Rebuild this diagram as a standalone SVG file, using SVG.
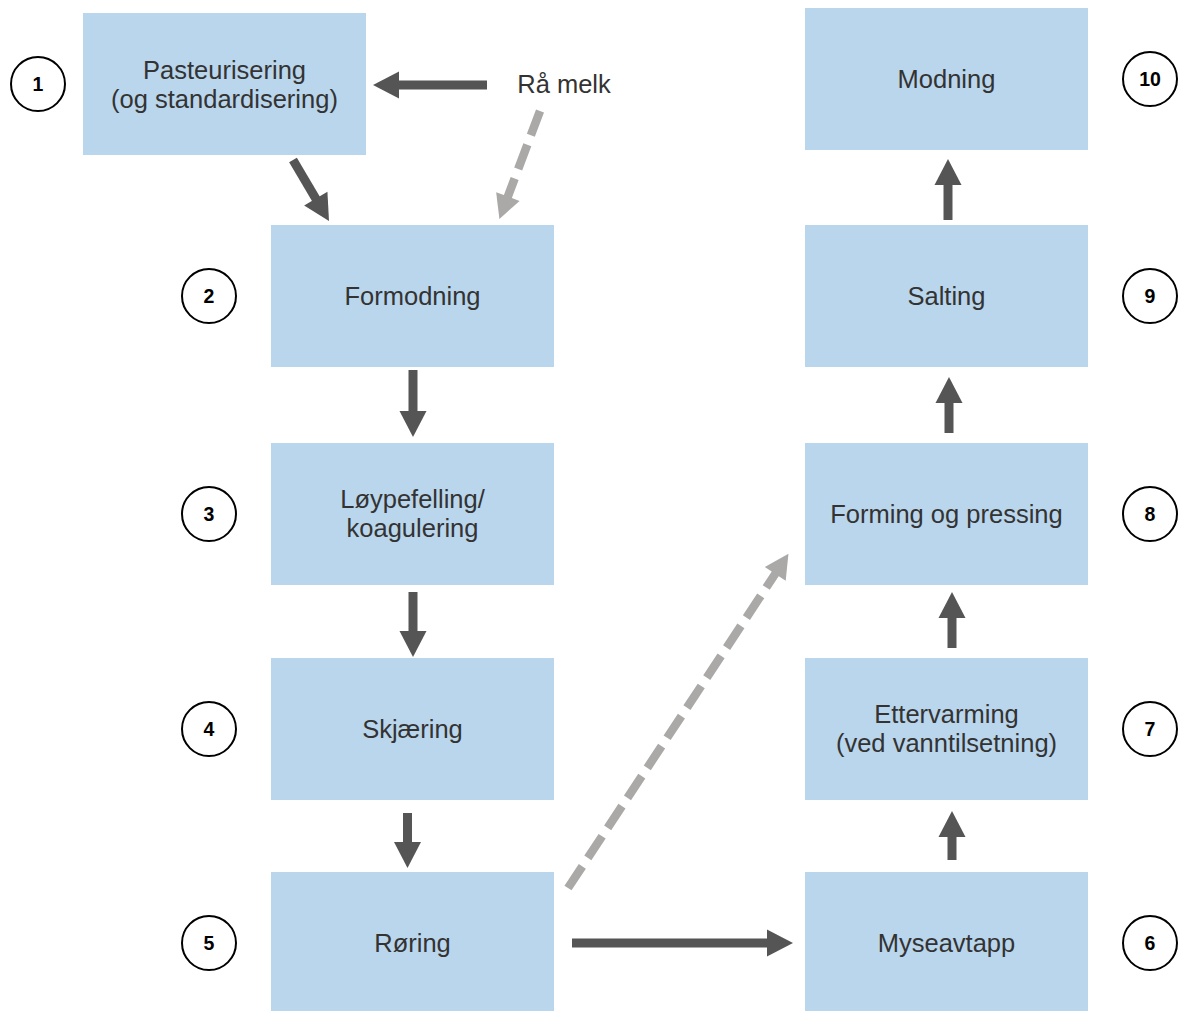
<svg xmlns="http://www.w3.org/2000/svg" width="1179" height="1011" viewBox="0 0 1179 1011">
<style>
  .box { fill: #BAD6EC; }
  .lbl { font-family: "Liberation Sans", Arial, sans-serif; font-size: 25.5px; fill: #333333; text-anchor: middle; }
  .num circle { fill: #ffffff; stroke: #000000; stroke-width: 2; }
  .num text { font-family: "Liberation Sans", Arial, sans-serif; font-size: 19.5px; font-weight: bold; fill: #000000; text-anchor: middle; }
  .solid { stroke: #555555; stroke-width: 9; fill: none; marker-end: url(#headDark); }
  .dashed { stroke: #ABA9A8; stroke-width: 8.5; fill: none; stroke-dasharray: 26 10; marker-end: url(#headGray); }
</style>
<defs>
  <marker id="headDark" markerUnits="userSpaceOnUse" markerWidth="27" markerHeight="28" refX="1" refY="13.5" orient="auto" overflow="visible">
    <path d="M0,0 L26,13.5 L0,27 Z" fill="#555555"/>
  </marker>
  <marker id="headGray" markerUnits="userSpaceOnUse" markerWidth="26" markerHeight="26" refX="1" refY="12.5" orient="auto" overflow="visible">
    <path d="M0,0 L24,12.5 L0,25 Z" fill="#ABA9A8"/>
  </marker>
</defs>
<rect width="1179" height="1011" fill="#ffffff"/>

<g id="connectors">
  <line class="solid" x1="487" y1="85" x2="398" y2="85"/>
  <line class="dashed" x1="540" y1="111" x2="507.5" y2="197.5"/>
  <line class="solid" x1="293" y1="160" x2="316.3" y2="199.5"/>
  <line class="solid" x1="413" y1="370" x2="413" y2="412"/>
  <line class="solid" x1="413" y1="592" x2="413" y2="632"/>
  <line class="solid" x1="407.5" y1="813" x2="407.5" y2="843"/>
  <line class="solid" x1="572" y1="943" x2="768" y2="943"/>
  <line class="dashed" x1="568" y1="888" x2="775.8" y2="573"/>
  <line class="solid" x1="952" y1="860" x2="952" y2="836"/>
  <line class="solid" x1="952" y1="648" x2="952" y2="617"/>
  <line class="solid" x1="949" y1="433" x2="949" y2="402"/>
  <line class="solid" x1="948" y1="220" x2="948" y2="184"/>
</g>

<g id="raw-milk">
  <text class="lbl" x="564" y="92.5">Rå melk</text>
</g>

<g id="step1">
  <rect class="box" x="83" y="13" width="283" height="142"/>
  <text class="lbl" x="224.5" y="78.5">Pasteurisering</text>
  <text class="lbl" x="224.5" y="107.5">(og standardisering)</text>
  <g class="num"><circle cx="38" cy="84" r="27"/><text x="38" y="91">1</text></g>
</g>
<g id="step2">
  <rect class="box" x="271" y="225" width="283" height="142"/>
  <text class="lbl" x="412.5" y="305">Formodning</text>
  <g class="num"><circle cx="209" cy="296" r="27"/><text x="209" y="303">2</text></g>
</g>
<g id="step3">
  <rect class="box" x="271" y="443" width="283" height="142"/>
  <text class="lbl" x="412.5" y="508">Løypefelling/</text>
  <text class="lbl" x="412.5" y="537">koagulering</text>
  <g class="num"><circle cx="209" cy="514" r="27"/><text x="209" y="521">3</text></g>
</g>
<g id="step4">
  <rect class="box" x="271" y="658" width="283" height="142"/>
  <text class="lbl" x="412.5" y="738">Skjæring</text>
  <g class="num"><circle cx="209" cy="729" r="27"/><text x="209" y="736">4</text></g>
</g>
<g id="step5">
  <rect class="box" x="271" y="872" width="283" height="142"/>
  <text class="lbl" x="412.5" y="952">Røring</text>
  <g class="num"><circle cx="209" cy="943" r="27"/><text x="209" y="950">5</text></g>
</g>
<g id="step6">
  <rect class="box" x="805" y="872" width="283" height="142"/>
  <text class="lbl" x="946.5" y="952">Myseavtapp</text>
  <g class="num"><circle cx="1150" cy="943" r="27"/><text x="1150" y="950">6</text></g>
</g>
<g id="step7">
  <rect class="box" x="805" y="658" width="283" height="142"/>
  <text class="lbl" x="946.5" y="723">Ettervarming</text>
  <text class="lbl" x="946.5" y="752">(ved vanntilsetning)</text>
  <g class="num"><circle cx="1150" cy="729" r="27"/><text x="1150" y="736">7</text></g>
</g>
<g id="step8">
  <rect class="box" x="805" y="443" width="283" height="142"/>
  <text class="lbl" x="946.5" y="523">Forming og pressing</text>
  <g class="num"><circle cx="1150" cy="514" r="27"/><text x="1150" y="521">8</text></g>
</g>
<g id="step9">
  <rect class="box" x="805" y="225" width="283" height="142"/>
  <text class="lbl" x="946.5" y="305">Salting</text>
  <g class="num"><circle cx="1150" cy="296" r="27"/><text x="1150" y="303">9</text></g>
</g>
<g id="step10">
  <rect class="box" x="805" y="8" width="283" height="142"/>
  <text class="lbl" x="946.5" y="88">Modning</text>
  <g class="num"><circle cx="1150" cy="79" r="27"/><text x="1150" y="86">10</text></g>
</g>
</svg>
